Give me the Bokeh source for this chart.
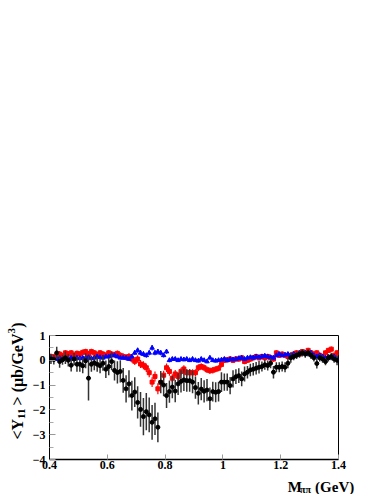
from math import pi
from bokeh.plotting import figure
from bokeh.layouts import row, column
from bokeh.models import Range1d, FixedTicker, ColumnDataSource
from bokeh.core.properties import value
from bokeh.embed import file_html
from bokeh.resources import INLINE

# ---------------- data (100 bins of 10 MeV from 0.40 to 1.40 GeV) ----------------
bin_lo = 0.40
bin_w = 0.01

black_y = [
    0.05, 0.03, 0.30, -0.05, 0.02, 0.10, 0.00, -0.20, 0.05, -0.16,
    -0.16, -0.22, -0.02, -0.72, -0.16, -0.10, -0.16, -0.22, -0.12, -0.36,
    -0.25, -0.05, -0.41, -0.49, -0.45, -0.81, -1.15, -0.95, -1.42, -1.28,
    -1.70, -1.98, -2.27, -2.07, -2.20, -2.50, -2.36, -2.70, -0.88, -1.00,
    -1.42, -1.26, -1.08, -1.24, -0.95, -0.85, -0.79, -0.82, -0.82, -0.88,
    -1.10, -1.33, -1.16, -1.25, -1.20, -1.55, -1.26, -1.29, -1.26, -0.88,
    -0.88, -0.88, -1.02, -0.75, -0.66, -0.62, -0.75, -0.55, -0.48, -0.39,
    -0.36, -0.32, -0.28, -0.25, -0.18, -0.21, -0.12, -0.48, -0.28, -0.28,
    -0.25, -0.28, -0.12, 0.10, 0.15, 0.20, 0.25, 0.30, 0.25, 0.30,
    0.20, 0.10, -0.13, 0.10, 0.05, -0.05, 0.10, 0.15, 0.05, 0.00,
]
black_err = [
    0.20, 0.20, 0.25, 0.25, 0.20, 0.25, 0.25, 0.25, 0.25, 0.30,
    0.30, 0.30, 0.30, 0.90, 0.30, 0.30, 0.30, 0.30, 0.30, 0.35,
    0.35, 0.35, 0.40, 0.45, 0.45, 0.50, 0.55, 0.55, 0.60, 0.60,
    0.65, 0.70, 0.75, 0.75, 0.70, 0.70, 0.65, 0.60, 0.45, 0.45,
    0.50, 0.45, 0.45, 0.45, 0.45, 0.45, 0.45, 0.45, 0.45, 0.45,
    0.45, 0.45, 0.45, 0.45, 0.45, 0.45, 0.40, 0.40, 0.40, 0.40,
    0.35, 0.35, 0.35, 0.35, 0.30, 0.30, 0.30, 0.30, 0.25, 0.25,
    0.25, 0.25, 0.25, 0.20, 0.20, 0.20, 0.20, 0.25, 0.20, 0.20,
    0.20, 0.20, 0.20, 0.20, 0.15, 0.15, 0.15, 0.15, 0.15, 0.15,
    0.15, 0.15, 0.20, 0.15, 0.15, 0.15, 0.15, 0.15, 0.15, 0.20,
]
red_y = [
    0.15, 0.12, 0.20, 0.25, 0.18, 0.30, 0.25, 0.30, 0.20, 0.28,
    0.25, 0.32, 0.35, 0.25, 0.35, 0.30, 0.22, 0.30, 0.25, 0.20,
    0.30, 0.25, 0.22, 0.28, 0.20, 0.15, 0.12, 0.15, 0.05, -0.04,
    0.05, -0.15, -0.20, -0.30, -0.50, -0.88, -0.65, -1.15, -0.90, -0.60,
    -0.30, -0.45, -0.72, -0.55, -0.65, -0.45, -0.35, -0.50, -0.50, -0.50,
    -0.50, -0.30, -0.25, -0.30, -0.38, -0.42, -0.40, -0.36, -0.32, -0.17,
    0.00, 0.02, 0.05, 0.00, 0.05, 0.05, 0.10, -0.05, 0.00, 0.05,
    0.10, 0.15, 0.10, 0.15, 0.10, 0.15, 0.10, 0.05, 0.30, 0.20,
    0.25, 0.20, 0.15, 0.20, 0.25, 0.30, 0.25, 0.35, 0.30, 0.40,
    0.30, 0.25, 0.30, 0.20, 0.15, 0.30, 0.40, 0.45, 0.20, 0.30,
]
red_err = [
    0.12, 0.12, 0.12, 0.12, 0.12, 0.12, 0.12, 0.12, 0.12, 0.12,
    0.12, 0.12, 0.12, 0.12, 0.12, 0.12, 0.12, 0.12, 0.12, 0.12,
    0.12, 0.12, 0.12, 0.12, 0.12, 0.13, 0.13, 0.14, 0.14, 0.15,
    0.15, 0.16, 0.16, 0.17, 0.18, 0.20, 0.20, 0.22, 0.20, 0.18,
    0.17, 0.17, 0.16, 0.16, 0.16, 0.15, 0.15, 0.15, 0.15, 0.14,
    0.14, 0.14, 0.13, 0.13, 0.13, 0.13, 0.13, 0.12, 0.12, 0.12,
    0.11, 0.11, 0.11, 0.11, 0.11, 0.11, 0.11, 0.11, 0.11, 0.11,
    0.11, 0.11, 0.11, 0.11, 0.11, 0.11, 0.11, 0.11, 0.11, 0.11,
    0.11, 0.11, 0.11, 0.11, 0.11, 0.11, 0.11, 0.11, 0.11, 0.11,
    0.11, 0.11, 0.11, 0.11, 0.11, 0.11, 0.11, 0.11, 0.11, 0.11,
]
blue_y = [
    0.10, 0.05, 0.05, 0.08, 0.05, 0.05, 0.08, 0.10, 0.05, 0.10,
    0.08, 0.10, 0.10, 0.12, 0.08, 0.10, 0.15, 0.12, 0.10, 0.15,
    0.15, 0.20, 0.20, 0.15, 0.10, 0.10, 0.10, 0.05, 0.15, 0.30,
    0.40, 0.30, 0.25, 0.20, 0.30, 0.50, 0.30, 0.35, 0.30, 0.20,
    0.35, 0.00, 0.05, 0.05, 0.00, 0.05, 0.03, 0.05, 0.00, 0.05,
    0.00, -0.02, 0.05, 0.00, -0.05, 0.10, 0.00, -0.02, 0.00, 0.02,
    0.05, 0.00, 0.05, 0.03, 0.05, 0.08, 0.10, 0.05, 0.10, 0.12,
    0.10, 0.15, 0.12, 0.15, 0.18, 0.15, 0.12, 0.10, 0.20, 0.25,
    0.20, 0.22, 0.25, 0.20, 0.25, 0.22, 0.30, 0.28, 0.30, 0.25,
    0.30, 0.20, 0.15, 0.20, 0.15, 0.10, 0.15, 0.10, 0.15, 0.05,
]
blue_err = [
    0.07, 0.07, 0.07, 0.07, 0.07, 0.07, 0.07, 0.07, 0.07, 0.07,
    0.07, 0.07, 0.07, 0.07, 0.07, 0.07, 0.07, 0.07, 0.07, 0.07,
    0.07, 0.07, 0.07, 0.07, 0.07, 0.07, 0.07, 0.08, 0.08, 0.09,
    0.10, 0.10, 0.10, 0.10, 0.10, 0.11, 0.10, 0.10, 0.10, 0.09,
    0.09, 0.08, 0.07, 0.07, 0.07, 0.07, 0.07, 0.07, 0.07, 0.07,
    0.07, 0.07, 0.07, 0.07, 0.07, 0.07, 0.07, 0.07, 0.07, 0.07,
    0.07, 0.07, 0.07, 0.07, 0.07, 0.07, 0.07, 0.07, 0.07, 0.07,
    0.08, 0.08, 0.08, 0.08, 0.08, 0.08, 0.08, 0.08, 0.08, 0.08,
    0.08, 0.08, 0.08, 0.08, 0.08, 0.08, 0.08, 0.08, 0.08, 0.08,
    0.08, 0.08, 0.08, 0.08, 0.08, 0.08, 0.08, 0.08, 0.08, 0.08,
]

x_ticks = [0.4, 0.6, 0.8, 1.0, 1.2, 1.4]
x_tick_labels = {0.4: "0.4", 0.6: "0.6", 0.8: "0.8", 1.0: "1", 1.2: "1.2", 1.4: "1.4"}
y_ticks = [-4, -3, -2, -1, 0, 1]
y_minor = [-3.5, -2.5, -1.5, -0.5, 0.5]

x_title = ["M", "\u03c0\u03c0", " (GeV)"]
y_title = ["<Y", "11", "> (\u03bcb/GeV", "3", ")"]

mass = [bin_lo + bin_w * (i + 0.5) for i in range(len(black_y))]

FONT = "Liberation Serif"

# ---------------- layout geometry (page px) ----------------
LW = 29                     # left strip holding the y title
FL, FT, FW, FH = 19, 335, 289, 124
MR, MB = 20, 16
MW = FL + FW + MR           # main figure width
MH = FT + FH + MB           # main figure height
BH = 495 - MH - 1           # bottom strip holding the x title

# ---------------- main figure ----------------
p = figure(frame_width=FW, frame_height=FH,
           min_border_left=FL, min_border_right=MR,
           min_border_top=FT, min_border_bottom=MB,
           x_range=Range1d(0.4, 1.4), y_range=Range1d(-4.0, 1.0),
           output_backend="svg", toolbar_location=None,
           background_fill_color="white", border_fill_color="white")
p.grid.visible = False
p.outline_line_color = "black"
p.outline_line_width = 1

p.xaxis.ticker = FixedTicker(ticks=x_ticks)
p.xaxis.major_label_overrides = x_tick_labels
p.xaxis.major_tick_in = 5
p.xaxis.major_tick_out = 0
p.xaxis.major_tick_line_color = "#999999"
p.xaxis.minor_tick_line_color = None
p.xaxis.axis_line_color = "black"
p.xaxis.axis_line_width = 1.5
p.xaxis.major_label_standoff = 1

p.yaxis.ticker = FixedTicker(ticks=y_ticks, minor_ticks=y_minor)
p.yaxis.major_tick_in = 6
p.yaxis.major_tick_out = 0
p.yaxis.minor_tick_in = 4
p.yaxis.minor_tick_out = 0
p.yaxis.major_tick_line_color = "#999999"
p.yaxis.minor_tick_line_color = "#aaaaaa"
p.yaxis.axis_line_color = "black"
p.yaxis.axis_line_width = 1
p.yaxis.major_label_standoff = 4

for ax in (p.xaxis, p.yaxis):
    ax.major_label_text_font = FONT
    ax.major_label_text_font_style = "bold"
    ax.major_label_text_font_size = "12px"
    ax.major_label_text_color = "black"


def src(yv, ev):
    return ColumnDataSource(dict(x=mass, y=yv,
                                 lo=[a - b for a, b in zip(yv, ev)],
                                 hi=[a + b for a, b in zip(yv, ev)]))


red_src = src(red_y, red_err)
blue_src = src(blue_y, blue_err)
black_src = src(black_y, black_err)

p.segment(x0="x", y0="lo", x1="x", y1="hi", source=red_src, line_color="#ff0000", line_width=1.2)
p.scatter(x="x", y="y", source=red_src, marker="square", size=4,
          fill_color="#ff0000", line_color="#ff0000")

p.segment(x0="x", y0="lo", x1="x", y1="hi", source=blue_src, line_color="#0000ff", line_width=1)
p.scatter(x="x", y="y", source=blue_src, marker="triangle", size=4.5,
          fill_color="#0000ff", line_color="#0000ff")

p.segment(x0="x", y0="lo", x1="x", y1="hi", source=black_src, line_color="#333333", line_width=1.5)
p.scatter(x="x", y="y", source=black_src, marker="circle", size=4,
          fill_color="black", line_color="black")


# ---------------- title strips ----------------
def strip(w, h):
    f = figure(frame_width=w, frame_height=h, min_border=0,
               x_range=Range1d(0, w), y_range=Range1d(0, h),
               x_axis_type=None, y_axis_type=None,
               output_backend="svg", toolbar_location=None,
               background_fill_color="white", border_fill_color="white")
    f.grid.visible = False
    f.outline_line_color = None
    return f


def put(f, x, y, text, size, align, angle=0.0):
    f.text(x=[x], y=[y], text=[text], angle=angle,
           text_font=value(FONT), text_font_style="bold",
           text_font_size=value(size), text_align=align,
           text_baseline="alphabetic", text_color="black")


# y title strip: page x 0..LW, page y 0..MH  (data y = MH - page y)
L = strip(LW, MH)
ang = pi / 2
put(L, 17.0, MH - 439.0, y_title[0], "16px", "left", ang)
put(L, 20.5, MH - 418.5, y_title[1], "11px", "left", ang)
put(L, 17.0, MH - 333.0, y_title[2], "16px", "right", ang)
put(L, 11.0, MH - 327.5, y_title[3], "11px", "right", ang)
put(L, 17.0, MH - 322.0, y_title[4], "16px", "right", ang)

# x title strip: page x LW..LW+MW, page y MH..MH+BH (data y = MH+BH - page y)
B = strip(MW, BH)
put(B, 281.5 - LW, MH + BH - 486.0, x_title[0], "15px", "right")
put(B, 290.5 - LW, MH + BH - 489.0, x_title[1], "10px", "right")
put(B, 337.5 - LW, MH + BH - 486.0, x_title[2], "15px", "right")

layout = row(L, column(p, B, spacing=0), spacing=0)

open("out.html", "w").write(file_html(layout, INLINE))
